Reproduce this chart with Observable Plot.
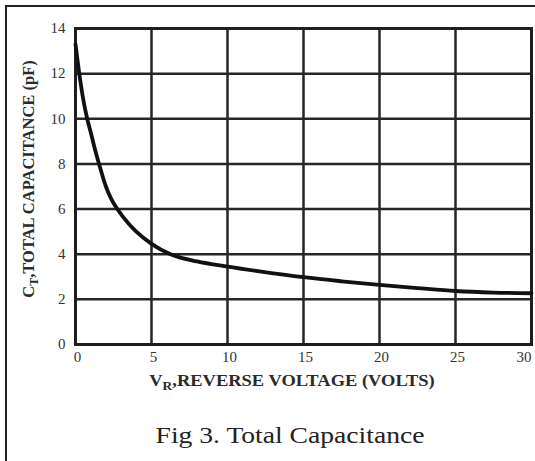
<!DOCTYPE html>
<html>
<head>
<meta charset="utf-8">
<script src="https://cdn.jsdelivr.net/npm/d3@7"></script>
<script src="https://cdn.jsdelivr.net/npm/@observablehq/plot@0.6"></script>
<style>
  html, body { margin: 0; padding: 0; background: #fff; }
  #wrap { position: relative; width: 535px; height: 461px; overflow: hidden; background: #fff; }
  .bl { position: absolute; background: #222; z-index: 5; }
  #caption { position: absolute; left: 0; top: 400px; width: 580px; text-align: center;
    font-family: 'Liberation Serif', 'Times New Roman', serif; font-size: 24px; color: #222; line-height: 1; padding-top: 23px;
    transform: scaleX(1.15); transform-origin: 290px 0; }
</style>
</head>
<body>
<div id="wrap">
  <div class="bl" style="left:5px;top:5px;width:530px;height:2px;"></div>
  <div class="bl" style="left:5px;top:5px;width:2px;height:456px;"></div>
  <div id="chart"></div>
  <div id="caption">Fig 3. Total Capacitance</div>
</div>
<script>
// Reverse voltage V_R (volts) and total capacitance C_T (pF)
const voltage = [0, 0.25, 0.5, 0.77, 1.0, 1.3, 1.55, 2.0, 2.35, 2.75, 3.5, 4.0, 5.0, 6.25, 8.0, 10, 12, 15, 17.5, 20, 22.5, 25, 27.5, 30];
const capacitance = [13.3, 12.0, 10.9, 10.0, 9.4, 8.6, 8.0, 7.0, 6.45, 6.0, 5.35, 5.0, 4.46, 4.0, 3.68, 3.45, 3.25, 2.98, 2.8, 2.64, 2.5, 2.37, 2.3, 2.27];
const xTicks = [0, 5, 10, 15, 20, 25, 30];
const yTicks = [0, 2, 4, 6, 8, 10, 12, 14];
const xTitle = ["V", "R", ",REVERSE VOLTAGE (VOLTS)"];
const yTitle = ["C", "T", ",TOTAL CAPACITANCE (pF)"];

const data = voltage.map((v, i) => ({v, c: capacitance[i]}));
const serif = "'Liberation Serif', 'Times New Roman', serif";

const plot = Plot.plot({
  width: 535,
  height: 400,
  marginLeft: 75,
  marginRight: 4,
  marginTop: 28,
  marginBottom: 56,
  style: {background: "transparent", color: "#333"},
  x: {domain: [0, 30], ticks: xTicks},
  y: {domain: [0, 14], ticks: yTicks},
  marks: [
    Plot.ruleX(xTicks, {stroke: "#262626", strokeWidth: 2.5}),
    Plot.ruleY(yTicks, {stroke: "#262626", strokeWidth: 2.5}),
    Plot.frame({stroke: "#1e1e1e", strokeWidth: 3}),
    Plot.line(data, {x: "v", y: "c", curve: "monotone-x", stroke: "#111", strokeWidth: 3.8}),
    Plot.axisX(xTicks.slice(0, -1), {tickSize: 0, tickPadding: 7, fontSize: 15, fontFamily: serif, label: null, dx: 2}),
    Plot.axisX(xTicks.slice(-1), {tickSize: 0, tickPadding: 7, fontSize: 15, fontFamily: serif, label: null, textAnchor: "end", dx: 0}),
    Plot.axisY(yTicks, {tickSize: 0, tickPadding: 10, fontSize: 15, fontFamily: serif, label: null})
  ]
});
document.getElementById("chart").appendChild(plot);

const svg = d3.select(plot);
svg.selectAll("text").attr("font-family", serif);
function title(sel, parts) {
  sel.attr("font-family", serif).attr("font-weight", "bold").attr("font-size", 16.5).attr("fill", "#2a2a2a");
  sel.append("tspan").text(parts[0]);
  sel.append("tspan").attr("font-size", 12).attr("dy", 4).text(parts[1]);
  sel.append("tspan").attr("dy", -4).text(parts[2]);
}
const xt = svg.append("text").attr("transform", "translate(292,386) scale(1.12,1)").attr("text-anchor", "middle");
title(xt, xTitle);
const yt = svg.append("text").attr("transform", "translate(34,179) rotate(-90)").attr("text-anchor", "middle");
title(yt, yTitle);
</script>
</body>
</html>
